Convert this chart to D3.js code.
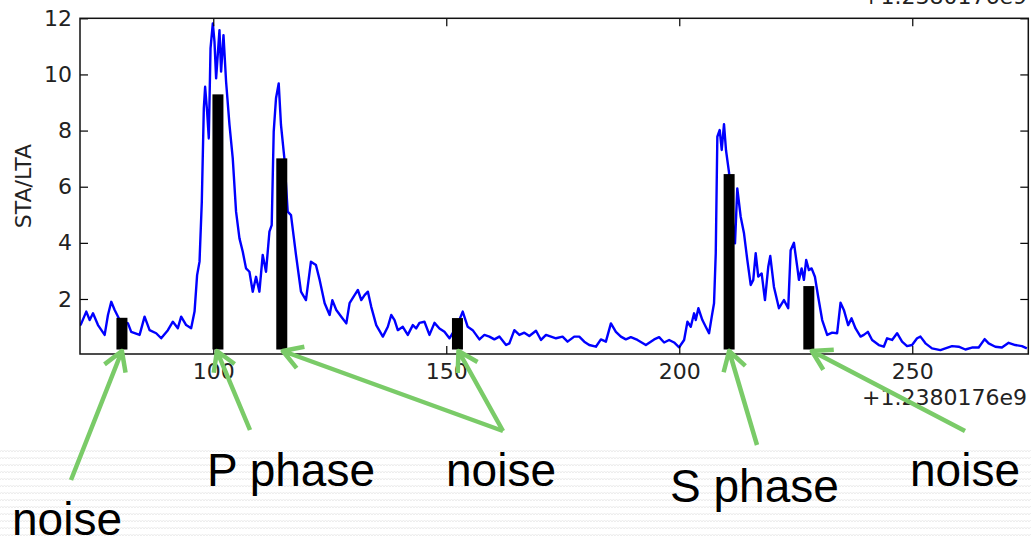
<html>
<head>
  <title>sta/lta picks</title>
  <meta charset="utf-8" />
<script src="https://d3js.org/d3.v7.min.js"></script>
</head>
<style>
  body { margin: 0; background: #fff; }
  svg { display: block; }
  .tick text { font-family: "DejaVu Sans"; font-size: 22px; fill: #222; }
  .note { font-family: "Liberation Sans", Arial; font-size: 46px; fill: #000; }
</style>
<body>
<div id="viz"><svg class="main" width="1031" height="540"></svg></div>
<script>

// sample times (offset from +1.2380176e9 s) and STA/LTA values
var times = [71.4, 71.68, 72.75, 73.48, 74.19, 75.26, 76.69, 77.40, 78.11, 78.84, 79.91,
  81.69, 82.39, 84.19, 85.26, 86.33, 87.75, 88.82, 90.26, 91.33, 92.40, 93.11, 94.18,
  95.25, 95.98, 96.53, 97.05, 97.54, 97.97, 98.25, 98.68, 99.04, 99.41, 99.90, 100.26,
  100.61, 101.33, 101.68, 102.19, 102.75, 103.48, 104.18, 104.89, 105.62, 106.33, 107.03,
  107.76, 108.47, 109.18, 109.90, 110.61, 111.32, 112.05, 112.54, 112.97, 113.46, 114.04,
  114.53, 115.26, 115.97, 116.68, 117.75, 118.82, 119.89, 120.96, 122.03, 122.83, 123.90,
  124.97, 125.55, 126.40, 127.47, 128.55, 129.25, 130.32, 131.03, 131.76, 132.47, 133.18,
  133.90, 134.97, 136.39, 137.46, 138.19, 138.90, 139.60, 140.67, 141.74, 142.82, 143.54,
  144.25, 145.32, 146.39, 147.47, 148.54, 149.61, 150.68, 152.18, 153.53, 154.60, 155.67,
  157.11, 158.18, 159.25, 160.32, 161.39, 162.83, 163.54, 164.61, 165.68, 166.75, 167.82,
  169.26, 170.33, 171.40, 172.47, 173.54, 174.96, 176.03, 177.46, 178.54, 179.61, 180.68,
  182.11, 183.18, 184.25, 185.33, 186.40, 187.47, 188.54, 189.61, 191.03, 192.83, 194.61,
  195.68, 196.75, 197.82, 198.89, 199.97, 201.04, 201.75, 202.47, 203.18, 203.54, 204.10,
  204.96, 205.68, 206.39, 206.97, 207.46, 207.83, 208.17, 208.68, 209.11, 209.60, 210.03,
  210.68, 211.32, 211.96, 212.45, 213.18, 213.89, 214.60, 215.33, 215.88, 216.40, 216.95,
  217.68, 218.39, 219.10, 219.53, 220.32, 221.39, 222.46, 223.38, 223.90, 224.61, 225.31,
  225.68, 226.26, 226.75, 227.24, 227.82, 228.40, 229.11, 229.81, 230.67, 231.74, 232.81,
  233.88, 234.61, 235.32, 236.24, 236.97, 237.83, 238.90, 239.61, 240.47, 241.38, 242.82,
  243.89, 244.60, 245.67, 246.74, 247.81, 248.88, 249.96, 251.03, 251.76, 252.83, 254.24,
  256.04, 257.11, 258.53, 259.96, 261.40, 262.81, 264.25, 265.53, 266.39, 267.82, 269.24,
  270.68, 272.11, 273.53, 274.60]

var staLta = [1.05, 1.13, 1.55, 1.25, 1.49, 1.07, 0.72, 1.43, 1.90, 1.61, 1.25,
  1.13, 0.83, 0.72, 1.37, 0.89, 0.78, 0.60, 0.89, 1.19, 0.96, 1.37, 1.07,
  0.96, 1.55, 2.85, 3.33, 5.47, 8.79, 9.56, 8.67, 7.72, 10.93, 11.82, 11.17,
  9.86, 11.58, 10.10, 11.40, 9.74, 8.20, 7.01, 5.11, 4.16, 3.68, 3.09,
  2.97, 2.26, 2.79, 2.26, 3.57, 2.97, 4.40, 4.63, 7.96, 9.15, 9.68,
  8.20, 7.01, 5.11, 4.99, 3.57, 2.26, 1.96, 3.33, 3.21, 2.68, 1.85,
  1.43, 1.96, 1.61, 1.37, 1.13, 1.85, 2.14, 2.32, 1.96, 2.14, 2.26,
  1.72, 1.07, 0.66, 1.01, 1.43, 1.25, 0.89, 1.01, 0.72, 1.07, 0.95,
  1.15, 1.19, 0.72, 1.15, 0.95, 0.83, 0.60, 1.00, 1.55, 1.01, 0.89,
  0.56, 0.72, 0.66, 0.56, 0.66, 0.36, 0.42, 0.89, 0.72, 0.80, 0.68,
  0.87, 0.54, 0.72, 0.66, 0.60, 0.66, 0.48, 0.66, 0.66, 0.48, 0.36,
  0.30, 0.56, 0.48, 1.13, 0.83, 0.66, 0.56, 0.64, 0.54, 0.36, 0.56,
  0.64, 0.45, 0.54, 0.45, 0.28, 0.54, 1.19, 1.01, 1.49, 1.25, 1.67,
  1.25, 1.01, 0.78, 1.37, 1.85, 3.63, 7.78, 8.02, 7.31, 8.23, 7.30,
  6.50, 5.00, 3.98, 5.94, 4.93, 4.34, 3.39, 2.50, 2.68, 3.63, 2.80,
  2.91, 1.96, 3.15, 3.53, 2.43, 1.67, 1.96, 1.67, 3.74, 4.00, 3.15,
  2.68, 3.09, 2.68, 3.39, 3.03, 3.09, 2.79, 2.08, 1.25, 0.72, 0.80,
  0.78, 1.87, 1.61, 1.07, 1.31, 0.95, 0.66, 0.72, 0.83, 0.54, 0.36,
  0.30, 0.60, 0.54, 0.78, 0.48, 0.32, 0.36, 0.60, 0.66, 0.42, 0.24,
  0.18, 0.24, 0.32, 0.30, 0.20, 0.27, 0.27, 0.57, 0.42, 0.30, 0.27,
  0.44, 0.36, 0.32, 0.24]

// picked triggers (black bars)
var pickTimes = [80.4, 101.0, 114.7, 152.4, 210.7, 227.8]
var pickHeights = [1.33, 9.29, 7.01, 1.32, 6.45, 2.46]
var pickBase = 0.2

var xTicks = [100, 150, 200, 250]
var yTicks = [2, 4, 6, 8, 10, 12]
var offsetText = "+1.2380176e9"
var yLabel = "STA/LTA"

// callouts under the plot
var noteTexts = ["noise", "P phase", "noise", "S phase", "noise"]
var notePos = [[12, 535], [207, 486], [446, 486], [670, 502], [910, 486]]
var arrowPick = [0, 1, 2, 3, 4, 5]
var arrowTail = [[71, 480], [250, 430], [503, 431], [503, 431], [757, 445], [965, 431]]
var arrowDx = [0, -1, 1, 1, 0, 3]

var plotL = 80, plotR = 1028.3, plotT = 18.3, plotB = 354

var x = d3.scaleLinear().domain([71.4, 274.9]).range([plotL, plotR])
var y = d3.scaleLinear().domain([0.04, 12]).range([plotB, plotT])

var svg = d3.select("svg.main")
var defs = svg.append("defs")

// faint zigzag texture of the slide background
var pat = defs.append("pattern")
  .attr("id", "zz")
  .attr("patternUnits", "userSpaceOnUse")
  .attr("width", 6).attr("height", 7)
pat.append("path")
  .attr("d", "M0,4 L1.5,2 L3,4 L4.5,2 L6,4")
  .style("fill", "none")
  .style("stroke", "#ececec")
  .style("stroke-width", 1)
svg.append("rect")
  .attr("x", 0).attr("y", 447).attr("width", 1031).attr("height", 93)
  .style("fill", "url(#zz)")

defs.append("clipPath").attr("id", "plotclip")
  .append("rect")
  .attr("x", plotL).attr("y", plotT).attr("width", plotR - plotL).attr("height", plotB - plotT)

var line = d3.line()
  .x(function (d, i) { return x(times[i]) })
  .y(function (d) { return y(d) })

svg.append("path")
  .datum(staLta)
  .attr("clip-path", "url(#plotclip)")
  .attr("d", line)
  .style("fill", "none")
  .style("stroke", "#0000ff")
  .style("stroke-width", 2.4)
  .style("stroke-linejoin", "round")

svg.append("g").selectAll("rect")
  .data(pickTimes)
  .enter()
  .append("rect")
  .attr("x", function (d) { return x(d - 1.18) })
  .attr("width", function (d) { return x(d + 1.18) - x(d - 1.18) })
  .attr("y", function (d, i) { return y(pickHeights[i]) })
  .attr("height", function (d, i) { return y(pickBase) - y(pickHeights[i]) })
  .style("fill", "#000")

// axes, ticks pointing inward
svg.append("g")
  .attr("transform", "translate(0," + plotB + ")")
  .call(d3.axisBottom(x).tickValues(xTicks).tickSize(-8).tickPadding(9))
svg.append("g")
  .attr("transform", "translate(0," + plotT + ")")
  .call(d3.axisTop(x).tickValues(xTicks).tickSize(-8).tickFormat(""))
svg.append("g")
  .attr("transform", "translate(" + plotL + ",0)")
  .call(d3.axisLeft(y).tickValues(yTicks).tickSize(-8).tickPadding(8))
svg.append("g")
  .attr("transform", "translate(" + plotR + ",0)")
  .call(d3.axisRight(y).tickValues(yTicks).tickSize(-8).tickFormat(""))

svg.selectAll(".domain").remove()
svg.selectAll(".tick line").style("stroke", "#000").style("stroke-width", 1.2)

svg.append("rect")
  .attr("x", plotL).attr("y", plotT)
  .attr("width", plotR - plotL).attr("height", plotB - plotT)
  .style("fill", "none")
  .style("stroke", "#111")
  .style("stroke-width", 1.5)

svg.append("text")
  .attr("transform", "translate(31," + (plotT + plotB) / 2 + ") rotate(-90)")
  .attr("text-anchor", "middle")
  .style("font-family", "DejaVu Sans")
  .style("font-size", "22px")
  .style("fill", "#222")
  .text(yLabel)

svg.append("text")
  .attr("x", 1027).attr("y", 405)
  .attr("text-anchor", "end")
  .style("font-family", "DejaVu Sans")
  .style("font-size", "22px")
  .style("fill", "#222")
  .text(offsetText)

svg.append("text")
  .attr("x", 1027).attr("y", 4)
  .attr("text-anchor", "end")
  .style("font-family", "DejaVu Sans")
  .style("font-size", "22px")
  .style("fill", "#222")
  .text(offsetText)

// green arrows from the notes to the bars
function arrowPath(i) {
  var tx = x(pickTimes[arrowPick[i]]) + arrowDx[i]
  var ty = y(pickBase) + 1.5
  var fx = arrowTail[i][0], fy = arrowTail[i][1]
  var a = Math.atan2(fy - ty, fx - tx)
  var len = 22, sp = 31 * Math.PI / 180
  var p1 = [tx + len * Math.cos(a - sp), ty + len * Math.sin(a - sp)]
  var p2 = [tx + len * Math.cos(a + sp), ty + len * Math.sin(a + sp)]
  return "M" + fx + "," + fy + "L" + tx + "," + ty +
    "M" + p1[0] + "," + p1[1] + "L" + tx + "," + ty + "L" + p2[0] + "," + p2[1]
}

svg.append("g").selectAll("path")
  .data(arrowPick)
  .enter()
  .append("path")
  .attr("d", function (d, i) { return arrowPath(i) })
  .style("fill", "none")
  .style("stroke", "#7acb68")
  .style("stroke-width", 4.5)
  .style("stroke-linejoin", "round")

svg.append("g").selectAll("text")
  .data(noteTexts)
  .enter()
  .append("text")
  .attr("class", "note")
  .attr("x", function (d, i) { return notePos[i][0] })
  .attr("y", function (d, i) { return notePos[i][1] })
  .text(function (d) { return d })

</script>
</body>
</html>
